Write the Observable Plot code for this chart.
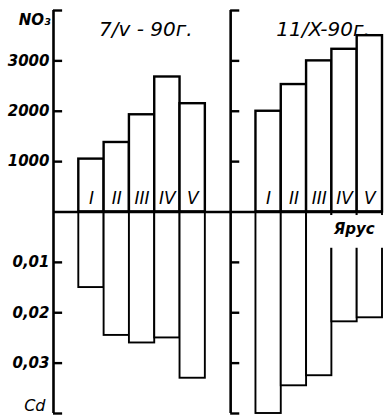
<!DOCTYPE html>
<html><head><meta charset="utf-8">
<script src="https://cdn.jsdelivr.net/npm/d3@7"></script>
<script src="https://cdn.jsdelivr.net/npm/@observablehq/plot@0.6"></script>
<style>html,body{margin:0;padding:0;background:#fff} svg{display:block}</style>
</head><body><div id="chart"></div>
<script>
// ---- data ----
const tiers = ["I", "II", "III", "IV", "V"];
const dates = ["7/v - 90г.", "11/X-90г."];
const no3May = [1050, 1380, 1930, 2680, 2150];
const no3Oct = [2000, 2530, 3000, 3230, 3500];
const cdMay = [0.015, 0.0245, 0.026, 0.025, 0.033];
const cdOct = [0.040, 0.0345, 0.0325, 0.0218, 0.021];
const no3Ticks = [1000, 2000, 3000];
const cdTicks = [0.01, 0.02, 0.03];
const no3Label = "NO₃";
const cdLabel = "Cd";
const tierLabel = "Ярус";

// ---- derived tables ----
const slots = tiers.length + 2;               // empty slot + tiers + gap
const off = p => p * slots;                    // panel origin on x
const no3 = [no3May, no3Oct];
const cd = [cdMay, cdOct];
const rows = [];
dates.forEach((d, p) => tiers.forEach((t, i) => rows.push({p, i, tier: t, no3: no3[p][i], cd: cd[p][i]})));
const yN = v => v / 1000;     // NO3 on upper half
const yC = v => -v * 100;     // Cd on lower half
const yMax = 4;
const tickRows = [];
dates.forEach((d, p) => {
  no3Ticks.forEach(v => tickRows.push({p, y: yN(v), label: String(v)}));
  cdTicks.forEach(v => tickRows.push({p, y: yC(v), label: String(v).replace(".", ",")}));
  tickRows.push({p, y: yMax, label: ""});
  tickRows.push({p, y: -yMax, label: ""});
});
const panels = dates.map((d, p) => ({p, date: d}));

const font = "DejaVu Sans, sans-serif";
const chart = Plot.plot({
  width: 385, height: 415,
  marginLeft: 53, marginRight: 3, marginTop: 10, marginBottom: 2,
  x: {domain: [0, slots * 2 - 1], axis: null},
  y: {domain: [-yMax, yMax], axis: null},
  style: {fontFamily: font, background: "white"},
  marks: [
    // NO3 bars
    Plot.rectY(rows, {x1: d => off(d.p) + 1 + d.i, x2: d => off(d.p) + 2 + d.i, y1: 0, y2: d => yN(d.no3),
      fill: "white", stroke: "black", strokeWidth: 2.4}),
    // Cd bars
    Plot.rectY(rows, {x1: d => off(d.p) + 1 + d.i, x2: d => off(d.p) + 2 + d.i, y1: 0, y2: d => yC(d.cd),
      fill: "white", stroke: "black", strokeWidth: 1.9}),
    // white box behind "Ярус"
    Plot.rectY([1], {x1: off(1) + 1 + 3, x2: off(1) + 1 + 5, y1: -0.07, y2: -0.72,
      fill: "white", insetLeft: -2, insetRight: -2}),
    // zero line
    Plot.ruleY([0], {x1: 0, x2: slots * 2 - 1, stroke: "black", strokeWidth: 2.4}),
    // axis lines
    Plot.ruleX(panels, {x: d => off(d.p), y1: -yMax, y2: yMax, stroke: "black", strokeWidth: 2.6}),
    // ticks (inward)
    Plot.ruleY(tickRows, {y: "y", x1: d => off(d.p), x2: d => off(d.p) + 0.36, stroke: "black", strokeWidth: 2.4}),
    // tick labels (left panel only)
    Plot.text(tickRows.filter(d => d.p === 0), {x: 0, y: "y", text: "label", textAnchor: "end", dx: -4,
      fontSize: 15, fontStyle: "italic", fontWeight: "bold", fill: "black"}),
    // axis titles
    Plot.text([no3Label], {x: 0, y: yMax, text: d => d, textAnchor: "end", dx: -3, dy: 10,
      fontSize: 15, fontStyle: "italic", fontWeight: "bold", fill: "black"}),
    Plot.text([cdLabel], {x: 0, y: -yMax, text: d => d, textAnchor: "end", dx: -8, dy: -8,
      fontSize: 16, fontStyle: "italic", fill: "black"}),
    // panel titles
    Plot.text(panels, {x: d => off(d.p) + 1.8, y: yMax, text: "date", textAnchor: "start", dy: 19,
      fontSize: 20, fontStyle: "italic", fill: "black"}),
    // tier labels
    Plot.text(rows, {x: d => off(d.p) + 1.5 + d.i, y: 0, text: "tier", dy: -13,
      fontSize: 17, fontStyle: "italic", fill: "black"}),
    Plot.text([tierLabel], {x: off(1) + 1 + 4, y: 0, text: d => d, dx: -3, dy: 17,
      fontSize: 15, fontStyle: "italic", fontWeight: "bold", fill: "black"})
  ]
});
document.getElementById("chart").appendChild(chart);
</script>
</body></html>
